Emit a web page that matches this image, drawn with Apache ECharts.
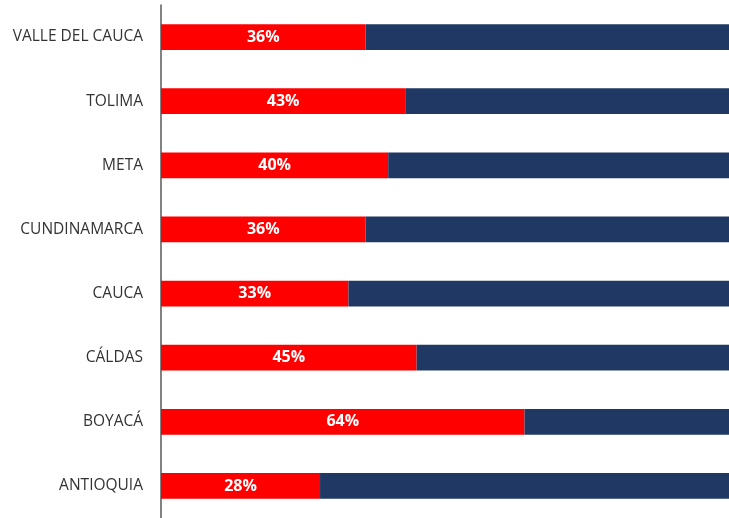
<!DOCTYPE html>
<html>
<head>
<meta charset="utf-8">
<style>
  html, body { margin: 0; padding: 0; background: #ffffff; }
  #chart { width: 729px; height: 518px; }
</style>
<script src="https://cdn.jsdelivr.net/npm/echarts@6/dist/echarts.min.js"></script>
</head>
<body>
<div id="chart"></div>
<script>
// Departments, listed bottom to top
const departments = ['ANTIOQUIA', 'BOYACÁ', 'CÁLDAS', 'CAUCA', 'CUNDINAMARCA', 'META', 'TOLIMA', 'VALLE DEL CAUCA'];
// Share (%) shown in red
const shareValues = [28, 64, 45, 33, 36, 40, 43, 36];
// Remainder up to 100%
const remainderValues = shareValues.map(v => 100 - v);

const chart = echarts.init(document.getElementById('chart'));
chart.setOption({
  animation: false,
  grid: { left: 161, top: 5, width: 574, height: 516, containLabel: false },
  xAxis: {
    type: 'value', min: 0, max: 100, show: false
  },
  yAxis: {
    type: 'category',
    data: departments,
    axisLine: { show: true, lineStyle: { color: '#595959', width: 1.5 } },
    axisTick: { show: false },
    axisLabel: {
      color: '#333333', fontSize: 15.5, margin: 18,
      fontFamily: '"Open Sans", sans-serif'
    }
  },
  series: [
    {
      name: 'share', type: 'bar', stack: 'total', data: shareValues,
      barCategoryGap: '60%',
      itemStyle: { color: '#ff0000' },
      label: {
        show: true, position: 'inside', formatter: '{c}%',
        color: '#ffffff', fontWeight: 'bold', fontSize: 16,
        fontFamily: '"Open Sans", sans-serif'
      }
    },
    {
      name: 'remainder', type: 'bar', stack: 'total', data: remainderValues,
      barCategoryGap: '60%',
      itemStyle: { color: '#203864' }
    }
  ]
});
</script>
</body>
</html>
